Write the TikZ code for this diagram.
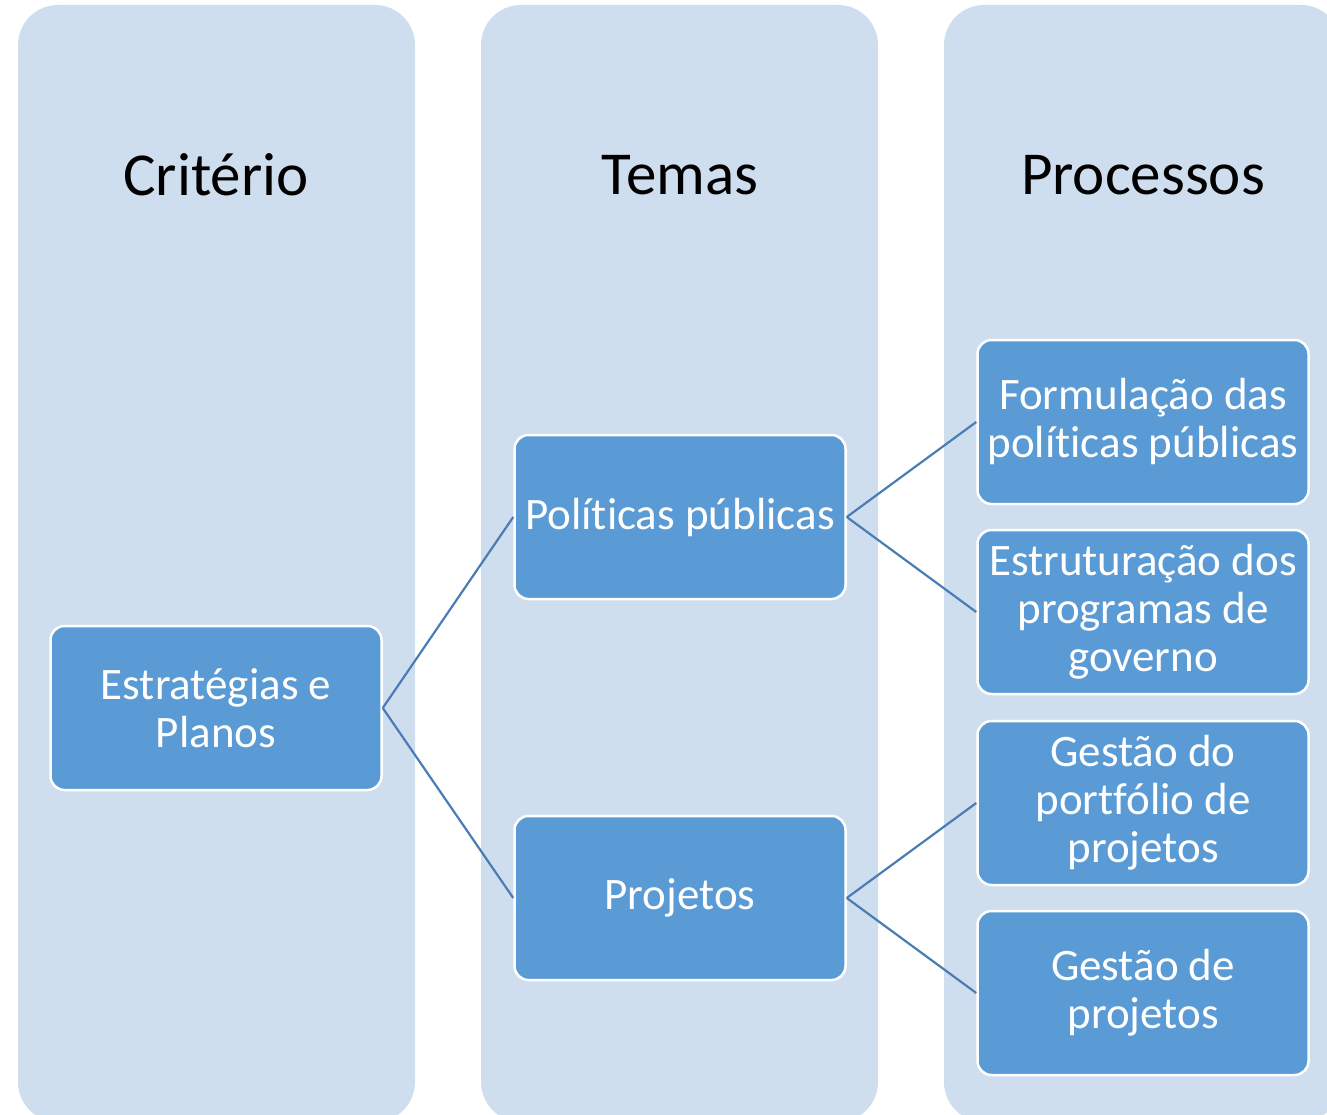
\documentclass[tikz,border=0pt]{standalone}
\usepackage{fontspec}
\setmainfont{Carlito}[Ligatures=NoCommon]

\definecolor{colbg}{HTML}{CFDEEE}
\definecolor{boxblue}{HTML}{5B9BD5}
\definecolor{linkblue}{HTML}{4A7DB4}

\tikzset{
    column/.style={fill=colbg, rounded corners=40pt},
    header/.style={font=\fontsize{61}{72}\selectfont, text=black},
    leaf/.style={rectangle, rounded corners=14pt, draw=white, line width=2.5pt,
        fill=boxblue, text=white, align=center,
        minimum width=331pt, minimum height=164pt,
        font=\fontsize{45}{48}\selectfont},
    link/.style={draw=linkblue, line width=2.2pt}
}

\begin{document}
\begin{tikzpicture}[x=1pt,y=-1pt]

        \useasboundingbox (0,0) rectangle (1327,1115);
        \clip (0,0) rectangle (1327,1115);

        % the three columns
        \fill[column] (18,5) rectangle (415,1122);
        \fill[column] (481,5) rectangle (878,1122);
        \fill[column] (944,5) rectangle (1341,1122);

        \node[header] (criterio) at (216,175) {Critério};
        \node[header] (temas) at (680,175) {Temas};
        \node[header] (processos) at (1143,175) {Processos};

        % boxes
        \node[leaf] (estrategias) at (216,708) {Estratégias e\\Planos};

        \node[leaf] (politicas) at (680,517) {Políticas públicas};
        \node[leaf] (projetos) at (680,898) {Projetos};

        \node[leaf] (formulacao) at (1143,422) {Formulação das\\políticas públicas};
        \node[leaf] (estruturacao) at (1143,612) {Estruturação dos\\programas de\\governo};
        \node[leaf] (portfolio) at (1143,803) {Gestão do\\portfólio de\\projetos};
        \node[leaf] (gestao) at (1143,993) {Gestão de\\projetos};

        % connectors
        \draw[link] (estrategias.east) -- (politicas.west);
        \draw[link] (estrategias.east) -- (projetos.west);

        \draw[link] (politicas.east) -- (formulacao.west);
        \draw[link] (politicas.east) -- (estruturacao.west);

        \draw[link] (projetos.east) -- (portfolio.west);
        \draw[link] (projetos.east) -- (gestao.west);

    \end{tikzpicture}
\end{document}
